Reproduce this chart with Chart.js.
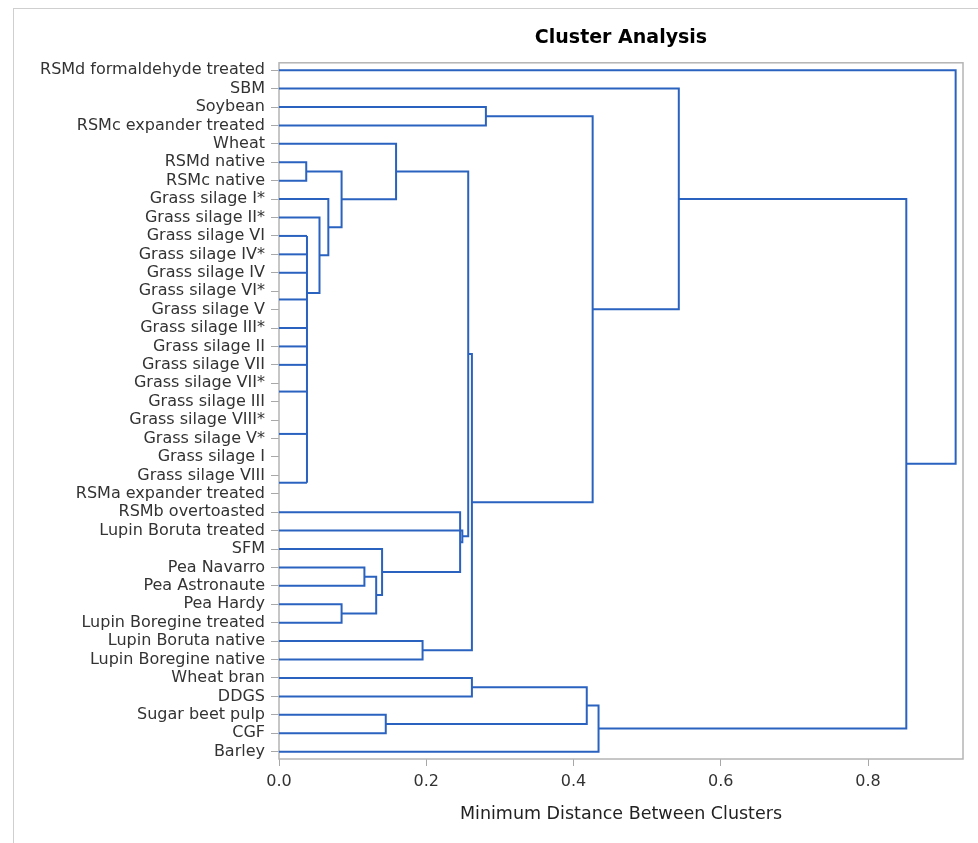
<!DOCTYPE html>
<html>
<head>
<meta charset="utf-8">
<script src="https://cdn.jsdelivr.net/npm/chart.js@4/dist/chart.umd.min.js"></script>
<style>
  html, body { margin: 0; padding: 0; background: #fff; }
  #frame { position: absolute; left: 13px; top: 8px; width: 965px; height: 835px;
           border-left: 1px solid #cfcfcf; border-top: 1px solid #cfcfcf; box-sizing: border-box; }
  #wrap { position: absolute; left: 0; top: 0; width: 978px; height: 843px; }
</style>
</head>
<body>
<div id="frame"></div>
<div id="wrap"><canvas id="chart"></canvas></div>
<script>
// leaves, top to bottom (row = index)
const leafLabels = [
  "RSMd formaldehyde treated", "SBM", "Soybean", "RSMc expander treated", "Wheat",
  "RSMd native", "RSMc native", "Grass silage I*", "Grass silage II*", "Grass silage VI",
  "Grass silage IV*", "Grass silage IV", "Grass silage VI*", "Grass silage V",
  "Grass silage III*", "Grass silage II", "Grass silage VII", "Grass silage VII*",
  "Grass silage III", "Grass silage VIII*", "Grass silage V*", "Grass silage I",
  "Grass silage VIII", "RSMa expander treated", "RSMb overtoasted", "Lupin Boruta treated",
  "SFM", "Pea Navarro", "Pea Astronaute", "Pea Hardy", "Lupin Boregine treated",
  "Lupin Boruta native", "Lupin Boregine native", "Wheat bran", "DDGS",
  "Sugar beet pulp", "CGF", "Barley"
];

// tied grass silage cluster: rows where the branches are drawn, all joined at one distance
const tieRows = [9, 10, 11, 12.45, 14, 15, 16, 17.45, 19.75, 22.4];
const tieDistance = 0.038;
const tieJoinRow = 12.1;

// merges in order: distance, left member, right member
// member = leaf row number, "cN" = merge N, "tie" = tied cluster
const mergeDistance = [0.037, 0.055, 0.067, 0.085, 0.159, 0.085, 0.116, 0.132, 0.140, 0.246,
                       0.249, 0.257, 0.195, 0.262, 0.281, 0.426, 0.543, 0.262, 0.145, 0.418,
                       0.434, 0.852, 0.919];
const mergeLeft  = [5, 8, 7, "c0", 4, 29, 27, "c6", 26, 24, 25, "c4", 31, "c11", 2, "c14", 1, 33, 35, "c17", "c19", "c16", 0];
const mergeRight = [6, "tie", "c1", "c2", "c3", 30, 28, "c5", "c7", "c8", "c9", "c10", 32, "c12", 3, "c13", "c15", 34, 36, "c18", 37, "c20", "c21"];

const xTicksMax = 0.929;
const lineColor = "#2a62c0";

const nodeRow = {tie: tieJoinRow};
const nodeDist = {tie: tieDistance};
const rowOf = m => typeof m === "number" ? m : nodeRow[m];
const distOf = m => typeof m === "number" ? 0 : nodeDist[m];

const segments = [];
// tied cluster: leaf branches + vertical
tieRows.forEach(r => segments.push([{x: 0, y: r}, {x: tieDistance, y: r}]));
segments.push([{x: tieDistance, y: Math.min(...tieRows)}, {x: tieDistance, y: Math.max(...tieRows)}]);

mergeDistance.forEach((d, i) => {
  const a = mergeLeft[i], b = mergeRight[i];
  const ya = rowOf(a), yb = rowOf(b);
  segments.push([
    {x: distOf(a), y: ya}, {x: d, y: ya}, {x: d, y: yb}, {x: distOf(b), y: yb}
  ]);
  nodeRow["c" + i] = (ya + yb) / 2;
  nodeDist["c" + i] = d;
});

const frame = {
  id: "frame",
  beforeDatasetsDraw(chart) {
    const {ctx, chartArea: a} = chart;
    ctx.save();
    ctx.strokeStyle = "#b4b4b4";
    ctx.lineWidth = 1.5;
    ctx.strokeRect(a.left, a.top, a.right - a.left, a.bottom - a.top);
    ctx.restore();
  }
};

const font = "'DejaVu Sans', 'Liberation Sans', Arial, sans-serif";

new Chart(document.getElementById("chart"), {
  type: "scatter",
  data: {
    datasets: segments.map(s => ({
      data: s,
      showLine: true,
      borderColor: lineColor,
      borderWidth: 2,
      pointRadius: 0,
      tension: 0,
      clip: false
    }))
  },
  options: {
    responsive: true,
    maintainAspectRatio: false,
    animation: false,
    layout: {padding: {left: 0, right: 15, top: 0, bottom: 0}},
    plugins: {
      legend: {display: false},
      tooltip: {enabled: false},
      title: {
        display: true,
        text: "Cluster Analysis",
        fullSize: false,
        color: "#000",
        font: {family: font, size: 19, weight: "bold"},
        padding: {top: 27, bottom: 13}
      }
    },
    scales: {
      x: {
        type: "linear",
        min: 0,
        max: xTicksMax,
        afterFit: s => { s.height = 84; },
        grid: {drawOnChartArea: false, drawTicks: true, tickLength: 7, color: "#a8a8a8"},
        border: {display: false},
        ticks: {
          stepSize: 0.2,
          includeBounds: false,
          padding: 6,
          color: "#333",
          font: {family: font, size: 16},
          callback: v => v.toFixed(1)
        },
        title: {
          display: true,
          text: "Minimum Distance Between Clusters",
          color: "#222",
          font: {family: font, size: 17.5},
          padding: {top: 0, bottom: 18}
        }
      },
      y: {
        type: "linear",
        reverse: true,
        min: -0.4,
        max: 37.4,
        afterFit: s => { s.width = 279; },
        grid: {drawOnChartArea: false, drawTicks: true, tickLength: 8, color: "#a8a8a8"},
        border: {display: false},
        ticks: {
          stepSize: 1,
          autoSkip: false,
          includeBounds: false,
          padding: 6,
          color: "#333",
          font: {family: font, size: 16},
          callback: v => leafLabels[v] ?? ""
        }
      }
    }
  },
  plugins: [frame]
});
</script>
</body>
</html>
